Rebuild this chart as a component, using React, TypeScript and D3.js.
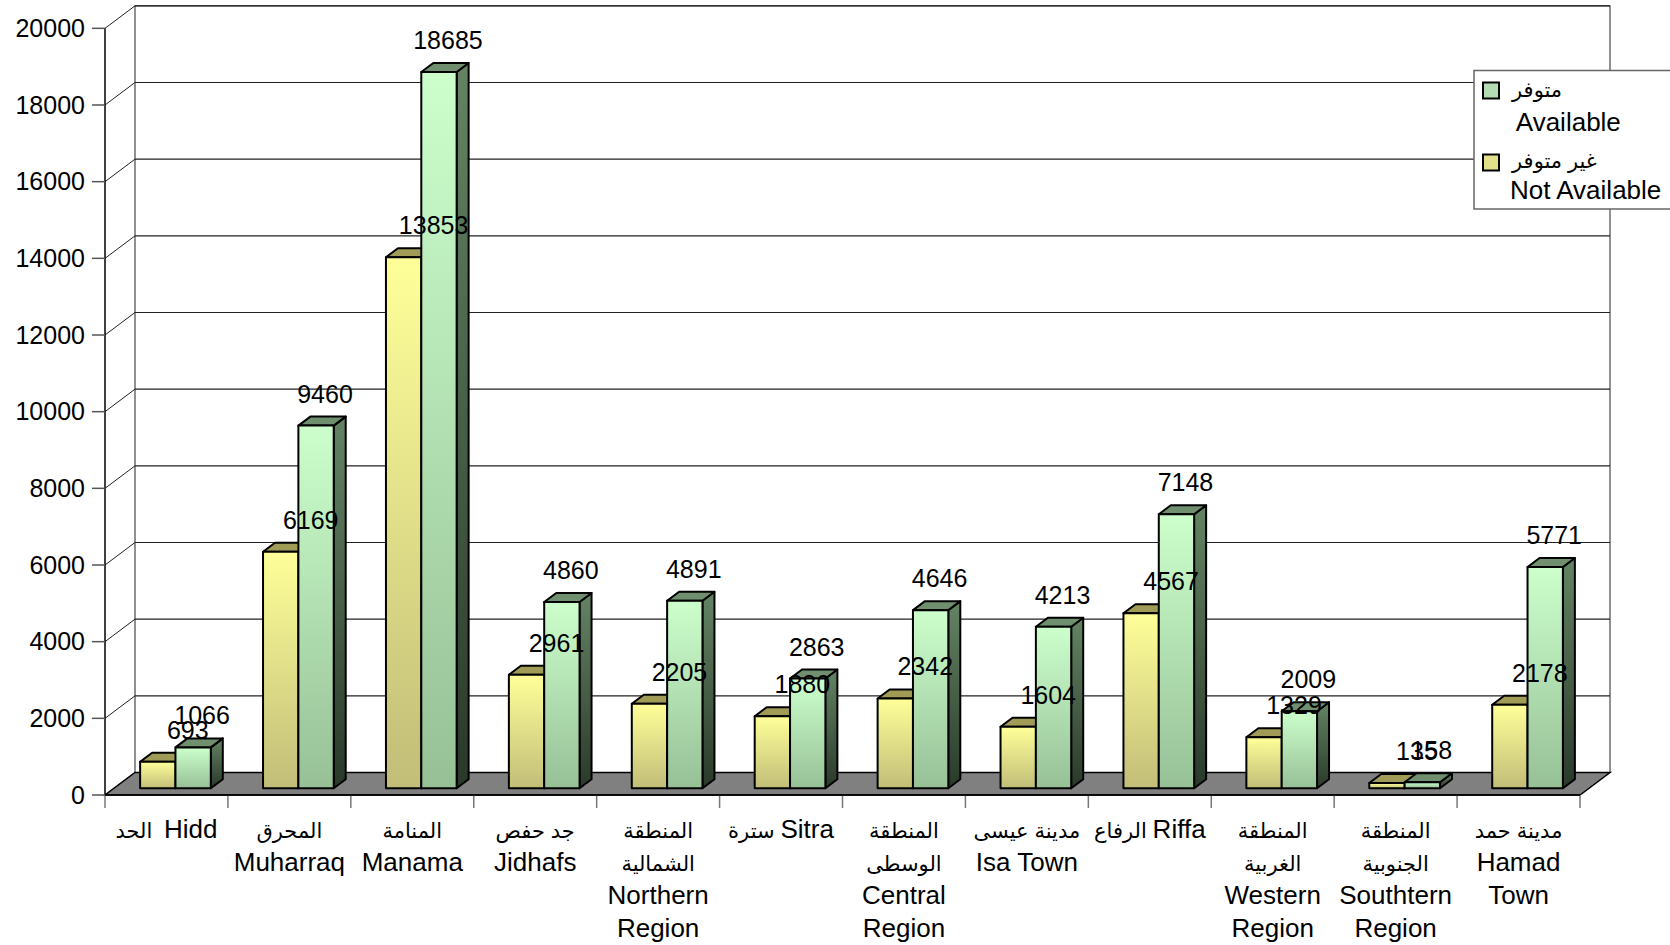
import { useEffect } from "react"
import * as d3 from "d3"

// categories (Arabic / English lines as shown under each group)
const categoryLabels: string[][] = [
  ["الحد  Hidd"],
  ["المحرق", "Muharraq"],
  ["المنامة", "Manama"],
  ["جد حفص", "Jidhafs"],
  ["المنطقة", "الشمالية", "Northern", "Region"],
  ["سترة Sitra"],
  ["المنطقة", "الوسطى", "Central", "Region"],
  ["مدينة عيسى", "Isa Town"],
  ["الرفاع Riffa"],
  ["المنطقة", "الغربية", "Western", "Region"],
  ["المنطقة", "الجنوبية", "Southtern", "Region"],
  ["مدينة حمد", "Hamad", "Town"],
]

const notAvailable = [693, 6169, 13853, 2961, 2205, 1880, 2342, 1604, 4567, 1329, 135, 2178]
const available = [1066, 9460, 18685, 4860, 4891, 2863, 4646, 4213, 7148, 2009, 158, 5771]

const yTicks = [0, 2000, 4000, 6000, 8000, 10000, 12000, 14000, 16000, 18000, 20000]

const legendItems = [
  { key: "av", ar: "متوفر", en: "Available" },
  { key: "na", ar: "غير متوفر", en: "Not Available" },
]

const W = 1670
const H = 945
const FONT = "'Liberation Sans', Arial, 'DejaVu Sans', sans-serif"
const AR_SIZE = 21

// split a line into Arabic / Latin runs so the Arabic can be drawn a bit smaller
function runs(line: string) {
  const parts = line.match(/[\u0600-\u06FF][\u0600-\u06FF\s]*|[^\u0600-\u06FF]+/g) || []
  return parts.map((p, k) => {
    const ar = /[\u0600-\u06FF]/.test(p)
    return (
      <tspan key={k} fontSize={ar ? AR_SIZE : undefined}>
        {p}
      </tspan>
    )
  })
}

export default function App() {
  useEffect(() => {
    document.body.style.margin = "0"
    document.body.style.overflow = "hidden"
  }, [])

  const left = 105
  const right = 1580
  const depthX = 30
  const depthY = 22.5
  // bars sit at ~30% of the floor depth, and are ~40% deep
  const barFx = depthX * 0.3
  const barFy = depthY * 0.3
  const barDx = 12
  const barDy = 9

  const y = d3.scaleLinear().domain([0, 20000]).range([795, 28.33])
  const x = d3
    .scaleBand<number>()
    .domain(d3.range(categoryLabels.length))
    .range([left, right])
    .paddingInner(0.425)
    .paddingOuter(0.2125)
  const step = x.step()
  const xs = d3.scaleBand<string>().domain(["na", "av"]).range([0, x.bandwidth()])
  const bw = xs.bandwidth()

  const y0 = y(0)
  const backTop = y(20000) - depthY
  const backBottom = y0 - depthY

  const bar = (i: number, s: string, v: number) => {
    const lx = (x(i) as number) + (xs(s) as number) + barFx
    const yt = y(v) - barFy
    const yb = y0 - barFy
    const top = `${lx},${yt} ${lx + barDx},${yt - barDy} ${lx + bw + barDx},${yt - barDy} ${lx + bw},${yt}`
    const side = `${lx + bw},${yt} ${lx + bw + barDx},${yt - barDy} ${lx + bw + barDx},${yb - barDy} ${lx + bw},${yb}`
    const c = s === "na" ? { front: "url(#gYel)", top: "#a19b58", side: "url(#gYelSide)" } : { front: "url(#gGrn)", top: "#6f8f6f", side: "url(#gGrnSide)" }
    return (
      <g key={`${s}-${i}`} stroke="#000" strokeWidth={2} strokeLinejoin="round">
        <polygon points={side} fill={c.side} />
        <polygon points={top} fill={c.top} />
        <rect x={lx} y={yt} width={bw} height={yb - yt} fill={c.front} />
      </g>
    )
  }

  const label = (i: number, s: string, v: number) => {
    const lx = (x(i) as number) + (xs(s) as number) + barFx + bw / 2
    const dx = s === "na" ? 30 : 9
    return (
      <text key={`l-${s}-${i}`} x={lx + dx} y={y(v) - barFy - 23} textAnchor="middle" fontSize={25}>
        {v}
      </text>
    )
  }

  return (
    <svg width={W} height={H} style={{ display: "block", background: "#fff" }} fontFamily={FONT}>
      <defs>
        <linearGradient id="gYel" x1="0" y1="0" x2="0" y2="1">
          <stop offset="0" stopColor="#ffff99" />
          <stop offset="1" stopColor="#c2bd78" />
        </linearGradient>
        <linearGradient id="gYelSide" x1="0" y1="0" x2="0" y2="1">
          <stop offset="0" stopColor="#8f8a50" />
          <stop offset="1" stopColor="#4a4728" />
        </linearGradient>
        <linearGradient id="gGrn" x1="0" y1="0" x2="0" y2="1">
          <stop offset="0" stopColor="#ccffcc" />
          <stop offset="1" stopColor="#97c097" />
        </linearGradient>
        <linearGradient id="gGrnSide" x1="0" y1="0" x2="0" y2="1">
          <stop offset="0" stopColor="#648464" />
          <stop offset="1" stopColor="#2a392a" />
        </linearGradient>
      </defs>

      {/* back wall */}
      <rect x={left + depthX} y={backTop} width={right - left} height={backBottom - backTop} fill="#fff" stroke="#222" strokeWidth={1} />
      {yTicks.filter((t) => t > 0).map((t) => (
        <line key={`bg-${t}`} x1={left + depthX} x2={right + depthX} y1={y(t) - depthY} y2={y(t) - depthY} stroke="#222" strokeWidth={1.2} />
      ))}
      {/* left wall */}
      {yTicks.map((t) => (
        <line key={`lw-${t}`} x1={left} x2={left + depthX} y1={y(t)} y2={y(t) - depthY} stroke="#222" strokeWidth={1} />
      ))}

      {/* floor */}
      <polygon
        points={`${left},${y0} ${right},${y0} ${right + depthX},${backBottom} ${left + depthX},${backBottom}`}
        fill="#808080"
        stroke="#000"
        strokeWidth={1.5}
      />

      {/* y axis */}
      <line x1={left} x2={left} y1={y(20000)} y2={y0} stroke="#000" strokeWidth={1.5} />
      {yTicks.map((t) => (
        <g key={`yt-${t}`}>
          <line x1={left - 13} x2={left} y1={y(t)} y2={y(t)} stroke="#555" strokeWidth={1.5} />
          <text x={left - 20} y={y(t)} dy="0.35em" textAnchor="end" fontSize={25}>
            {t}
          </text>
        </g>
      ))}

      {/* x axis ticks */}
      {d3.range(categoryLabels.length + 1).map((k) => (
        <line key={`xt-${k}`} x1={left + k * step} x2={left + k * step} y1={y0} y2={y0 + 13} stroke="#777" strokeWidth={1.5} />
      ))}
      <line x1={left} x2={right} y1={y0} y2={y0} stroke="#000" strokeWidth={1.5} />

      {/* bars */}
      {categoryLabels.map((_, i) => (
        <g key={`cat-${i}`}>
          {bar(i, "na", notAvailable[i])}
          {bar(i, "av", available[i])}
        </g>
      ))}

      {/* value labels */}
      {categoryLabels.map((_, i) => (
        <g key={`lab-${i}`}>
          {label(i, "na", notAvailable[i])}
          {label(i, "av", available[i])}
        </g>
      ))}

      {/* category labels */}
      {categoryLabels.map((lines, i) =>
        lines.map((ln, j) => (
          <text
            key={`cl-${i}-${j}`}
            x={left + (i + 0.5) * step}
            y={838 + j * 33}
            textAnchor="middle"
            fontSize={26}
            style={{ whiteSpace: "pre" }}
          >
            {runs(ln)}
          </text>
        ))
      )}

      {/* legend */}
      <g>
        <rect x={1474} y={70.5} width={210} height={138.5} fill="#fff" stroke="#666" strokeWidth={1.5} />
        {legendItems.map((it, k) => (
          <g key={it.key}>
            <rect x={1483} y={82.5 + k * 72} width={16} height={16} fill={it.key === "av" ? "#b4dcb4" : "#e3e08c"} stroke="#000" strokeWidth={2} />
            <text x={1512} y={97 + k * 71} fontSize={AR_SIZE}>
              {it.ar}
            </text>
            <text x={1510} y={130.5 + k * 68} fontSize={26} style={{ whiteSpace: "pre" }}>
              {k === 0 ? " " + it.en : it.en}
            </text>
          </g>
        ))}
      </g>
    </svg>
  )
}
